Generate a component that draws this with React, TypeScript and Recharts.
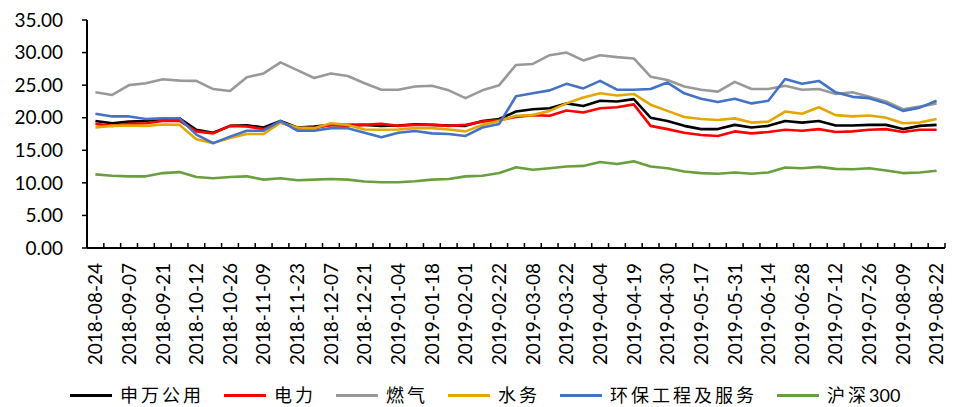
import React from 'react';
import { LineChart, Line, XAxis, YAxis } from 'recharts';

const dates = ['2018-08-24','2018-08-31','2018-09-07','2018-09-14','2018-09-21','2018-09-28','2018-10-12','2018-10-19','2018-10-26','2018-11-02','2018-11-09','2018-11-16','2018-11-23','2018-11-30','2018-12-07','2018-12-14','2018-12-21','2018-12-28','2019-01-04','2019-01-11','2019-01-18','2019-01-25','2019-02-01','2019-02-15','2019-02-22','2019-03-01','2019-03-08','2019-03-15','2019-03-22','2019-03-29','2019-04-04','2019-04-12','2019-04-19','2019-04-26','2019-04-30','2019-05-10','2019-05-17','2019-05-24','2019-05-31','2019-06-06','2019-06-14','2019-06-21','2019-06-28','2019-07-05','2019-07-12','2019-07-19','2019-07-26','2019-08-02','2019-08-09','2019-08-16','2019-08-22'];

const swUtility = [19.5,19.15,19.4,19.5,19.8,19.9,18.15,17.7,18.75,18.85,18.5,19.5,18.5,18.65,18.9,18.9,18.9,18.75,18.8,19.0,18.9,18.8,18.75,19.5,19.8,20.95,21.3,21.45,22.2,21.8,22.6,22.5,22.85,20.0,19.5,18.75,18.25,18.25,18.9,18.5,18.75,19.5,19.25,19.5,18.8,18.8,18.9,18.9,18.25,18.75,18.9];
const power = [19.05,18.75,19.05,19.15,19.5,19.5,17.9,17.6,18.75,18.65,18.25,19.25,18.4,18.4,18.9,18.75,18.9,19.05,18.75,18.9,18.9,18.75,18.9,19.4,19.65,20.1,20.4,20.3,21.1,20.8,21.45,21.6,22.05,18.75,18.25,17.7,17.35,17.2,17.9,17.6,17.8,18.15,18.0,18.25,17.8,17.9,18.15,18.25,17.8,18.15,18.15];
const gas = [23.9,23.5,25.0,25.3,25.9,25.7,25.65,24.4,24.1,26.2,26.8,28.5,27.3,26.1,26.8,26.4,25.3,24.3,24.3,24.8,24.9,24.2,23.0,24.2,25.0,28.1,28.25,29.6,30.0,28.8,29.6,29.3,29.1,26.3,25.8,24.8,24.3,24.0,25.5,24.4,24.4,24.9,24.3,24.4,23.65,23.9,23.2,22.5,21.3,21.7,22.2];
const water = [18.5,18.75,18.8,18.75,18.95,18.9,16.7,16.1,16.9,17.5,17.5,19.25,18.5,18.4,19.15,18.9,18.2,18.15,18.2,18.4,18.4,18.2,17.9,18.9,19.5,20.3,20.4,21.05,22.2,23.1,23.75,23.4,23.65,22.0,21.05,20.1,19.8,19.65,19.9,19.25,19.4,20.95,20.6,21.6,20.4,20.2,20.35,20.0,19.15,19.25,19.8];
const envService = [20.6,20.2,20.2,19.8,19.9,19.9,17.4,16.1,17.1,18.0,18.0,19.5,18.0,18.0,18.4,18.4,17.7,17.0,17.7,17.95,17.6,17.5,17.2,18.5,19.05,23.3,23.75,24.2,25.2,24.5,25.65,24.3,24.3,24.4,25.4,23.75,22.9,22.4,22.9,22.2,22.6,25.95,25.2,25.65,23.9,23.2,23.0,22.2,21.05,21.55,22.6];
const hs300 = [11.3,11.1,11.0,11.0,11.5,11.65,10.9,10.7,10.9,11.0,10.5,10.7,10.4,10.5,10.6,10.5,10.2,10.1,10.1,10.25,10.5,10.6,11.0,11.1,11.5,12.4,12.0,12.25,12.5,12.6,13.2,12.9,13.3,12.5,12.25,11.75,11.5,11.4,11.6,11.4,11.6,12.35,12.25,12.45,12.15,12.1,12.25,11.9,11.5,11.6,11.85];

const yTicks = [0, 5, 10, 15, 20, 25, 30, 35];

const seriesNames = ['申万公用', '电力', '燃气', '水务', '环保工程及服务', '沪深300'];
const seriesKeys = ['sw', 'power', 'gas', 'water', 'env', 'hs300'];
const seriesColors = ['#000000', '#FF0000', '#999999', '#E3A700', '#4472C4', '#6A9F3F'];
const seriesValues = [swUtility, power, gas, water, envService, hs300];

const data = dates.map((d, i) => {
  const row: Record<string, number | string> = { i, date: d };
  seriesKeys.forEach((k, s) => { row[k] = seriesValues[s][i]; });
  return row;
});

const xTicks: number[] = [];
for (let k = -0.5; k <= dates.length - 0.5 + 1e-9; k += 0.5) {
  const isInt = Number.isInteger(k);
  if (!isInt || k % 2 === 0) xTicks.push(k);
}

const FONT = 'Lato, "Noto Sans", sans-serif';

const XTick = (props: any) => {
  const { x, y, payload } = props;
  const v = payload.value;
  if (Number.isInteger(v)) {
    return (
      <text
        x={x}
        y={y}
        dx={-15}
        dy="0.36em"
        transform={`rotate(-90, ${x}, ${y})`}
        textAnchor="end"
        fill="#000"
        fontSize={19}
        fontFamily={FONT}
      >
        {dates[v]}
      </text>
    );
  }
  return <line x1={x} x2={x} y1={y} y2={y - 5} stroke="#000" strokeWidth={1.5} />;
};

const isCJK = (c: string) => /[\u3400-\u9fff]/.test(c);

export default function App() {
  return (
    <div style={{ position: 'absolute', left: 0, top: 0, width: 958, height: 407, background: '#fff', fontFamily: FONT }}>
      <LineChart
        width={958}
        height={407}
        data={data}
        margin={{ top: 20, right: 13, left: 7, bottom: 0 }}
      >
        <XAxis
          dataKey="i"
          type="number"
          domain={[-0.5, dates.length - 0.5]}
          ticks={xTicks}
          interval={0}
          tick={<XTick />}
          tickLine={false}
          tickSize={0}
          tickMargin={0}
          height={159}
          axisLine={{ stroke: '#000', strokeWidth: 2 }}
          allowDataOverflow
        />
        <YAxis
          domain={[0, 35]}
          ticks={yTicks}
          interval={0}
          width={80}
          tickFormatter={(v: number) => v.toFixed(2)}
          tick={{ fill: '#000', fontSize: 19, fontFamily: FONT }}
          tickSize={5}
          tickMargin={19}
          tickLine={{ stroke: '#000', strokeWidth: 1.5 }}
          axisLine={{ stroke: '#000', strokeWidth: 2 }}
        />
        {seriesKeys.map((k, s) => (
          <Line
            key={k}
            dataKey={k}
            name={seriesNames[s]}
            stroke={seriesColors[s]}
            strokeWidth={2.6}
            dot={false}
            activeDot={false}
            isAnimationActive={false}
            strokeLinejoin="round"
          />
        ))}
      </LineChart>
      <div
        style={{
          position: 'absolute',
          left: 70,
          top: 383,
          height: 24,
          display: 'flex',
          alignItems: 'center',
          whiteSpace: 'nowrap',
        }}
      >
        {seriesNames.map((n, s) => (
          <div key={n} style={{ display: 'flex', alignItems: 'center', marginRight: 20 }}>
            <span style={{ display: 'inline-block', width: 42, height: 3, background: seriesColors[s], marginRight: 8 }} />
            <span style={{ fontSize: 18, color: '#000', fontFamily: 'Lato, "Noto Sans CJK SC", sans-serif', lineHeight: '24px' }}>
              {Array.from(n).map((c, ci) => (
                <span key={ci} style={{ letterSpacing: isCJK(c) ? 3 : 0 }}>{c}</span>
              ))}
            </span>
          </div>
        ))}
      </div>
    </div>
  );
}
